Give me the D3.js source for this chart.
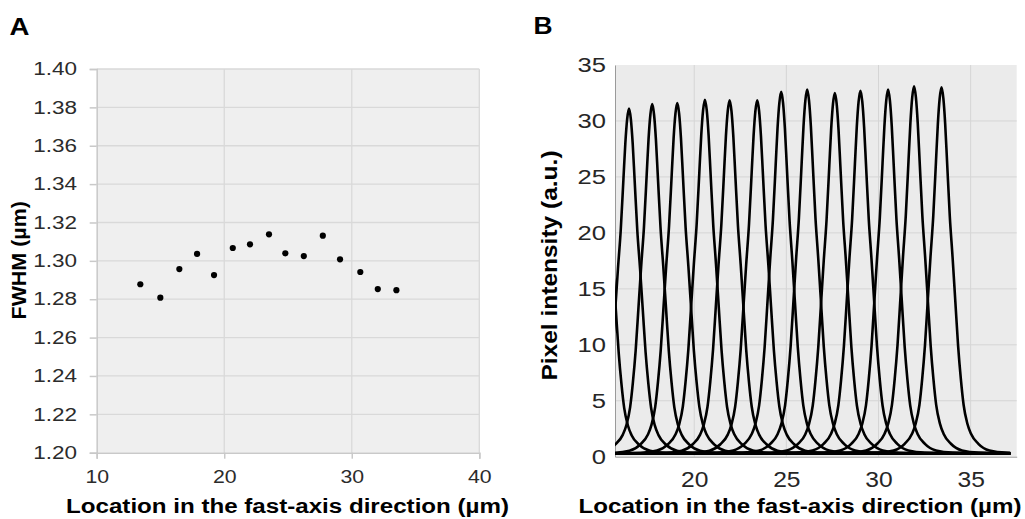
<!DOCTYPE html>
<html>
<head>
<meta charset="utf-8">
<script src="https://cdn.jsdelivr.net/npm/d3@7"></script>
<style>
body{margin:0;background:#fff}
svg{display:block}
text{font-family:"Liberation Sans",Arial,sans-serif}
</style>
</head>
<body>
<svg id="chart" width="1025" height="519"></svg>
<script>
// --- panel A : FWHM along the fast axis ---
var fwhmX = [13.42, 14.99, 16.48, 17.87, 19.20, 20.67, 22.02, 23.51, 24.79, 26.24, 27.73, 29.08, 30.67, 32.04, 33.50];
var fwhmY = [1.2878, 1.2808, 1.2957, 1.3036, 1.2926, 1.3067, 1.3086, 1.3138, 1.3039, 1.3025, 1.3131, 1.3008, 1.2942, 1.2853, 1.2847];
var fwhmXTicks = [10, 20, 30, 40];
var fwhmYTicks = [1.20, 1.22, 1.24, 1.26, 1.28, 1.30, 1.32, 1.34, 1.36, 1.38, 1.40];

// --- panel B : line profiles ---
var peakCenters = [15.00, 16.46, 17.72, 19.08, 20.58, 21.92, 23.42, 24.72, 26.13, 27.63, 29.02, 30.52, 31.93, 33.42];
var peakHeights = [31.0, 31.1, 31.5, 31.6, 31.9, 31.85, 31.85, 32.6, 32.8, 32.5, 32.7, 32.8, 33.1, 33.0];
var profileOffset = [0, 0.1, 0.2, 0.3, 0.45, 0.6, 0.75, 0.9, 1.05, 1.2, 1.4, 1.6, 2.0, 2.6, 3.5, 6, 22];
var profileLevel = [1, 0.97, 0.9, 0.8, 0.65, 0.54, 0.42, 0.30, 0.21, 0.14, 0.09, 0.062, 0.035, 0.017, 0.011, 0.009, 0.009];
var scanRange = [15.7, 37.15];
var intensityXTicks = [20, 25, 30, 35];
var intensityYTicks = [0, 5, 10, 15, 20, 25, 30, 35];

var svg = d3.select("#chart");

// stretch tick text sideways a little, the source figure is a bit wider than tall
function widen(sel, sx) {
	sel.each(function() {
		var t = d3.select(this);
		var x = +t.attr("x") || 0;
		t.attr("x", 0).attr("transform", "translate(" + x + ",0) scale(" + sx + ",1)");
	});
}

/* ---------------- panel A ---------------- */
var xA = d3.scaleLinear().domain([10, 40]).range([96.7, 479.3]);
var yA = d3.scaleLinear().domain([1.20, 1.40]).range([452.7, 69]);

var gA = svg.append("g");
gA.append("rect")
	.attr("x", xA(10)).attr("y", yA(1.40))
	.attr("width", xA(40) - xA(10)).attr("height", yA(1.20) - yA(1.40))
	.attr("fill", "#efefef");

gA.selectAll(".hgrid").data(fwhmYTicks.slice(1)).enter().append("line")
	.attr("x1", xA(10)).attr("x2", xA(40))
	.attr("y1", function(d) { return yA(d); }).attr("y2", function(d) { return yA(d); })
	.attr("stroke", "#d9d9d9").attr("stroke-width", 1.3);
gA.selectAll(".vgrid").data(fwhmXTicks.slice(1)).enter().append("line")
	.attr("y1", yA(1.20)).attr("y2", yA(1.40))
	.attr("x1", function(d) { return xA(d); }).attr("x2", function(d) { return xA(d); })
	.attr("stroke", "#d9d9d9").attr("stroke-width", 1.3);

var axALeft = gA.append("g")
	.attr("transform", "translate(" + xA(10) + ",0)")
	.call(d3.axisLeft(yA).tickValues(fwhmYTicks).tickFormat(d3.format(".2f")).tickSize(7).tickPadding(12.7));
var axABottom = gA.append("g")
	.attr("transform", "translate(0," + yA(1.20) + ")")
	.call(d3.axisBottom(xA).tickValues(fwhmXTicks).tickSize(6).tickPadding(11));
[axALeft, axABottom].forEach(function(ax) {
	ax.select(".domain").attr("stroke", "#c9c9c9").attr("stroke-width", 1.5);
	ax.selectAll(".tick line").attr("stroke", "#c9c9c9").attr("stroke-width", 1.5);
	ax.selectAll("text").attr("fill", "#2b2b2b");
});
axALeft.selectAll("text").attr("font-size", 18).call(widen, 1.25);
axABottom.selectAll("text").attr("font-size", 19).call(widen, 1.12);

gA.selectAll(".dot").data(fwhmX).enter().append("circle")
	.attr("cx", function(d) { return xA(d); })
	.attr("cy", function(d, i) { return yA(fwhmY[i]); })
	.attr("r", 3.1)
	.attr("fill", "#000");

gA.append("text")
	.attr("transform", "translate(287.5,513.3) scale(1.15,1)")
	.attr("text-anchor", "middle").attr("font-weight", "bold").attr("font-size", 21)
	.text("Location in the fast-axis direction (µm)");
gA.append("text")
	.attr("transform", "translate(25.7,260.3) rotate(-90) scale(1.1,1)")
	.attr("text-anchor", "middle").attr("font-weight", "bold").attr("font-size", 19.5)
	.text("FWHM (µm)");
gA.append("text")
	.attr("transform", "translate(9.5,35) scale(1.15,1)")
	.attr("font-weight", "bold").attr("font-size", 24)
	.text("A");

/* ---------------- panel B ---------------- */
var xB = d3.scaleLinear().domain([15.7, 37.5]).range([615, 1016.7]);
var yB = d3.scaleLinear().domain([0, 35]).range([456.7, 65]);

var gB = svg.append("g");
gB.append("rect")
	.attr("x", xB(15.7)).attr("y", yB(35))
	.attr("width", xB(37.5) - xB(15.7)).attr("height", yB(0) - yB(35))
	.attr("fill", "#ebebeb");

gB.selectAll(".hgrid").data(intensityYTicks.slice(1, -1)).enter().append("line")
	.attr("x1", xB(15.7)).attr("x2", xB(37.5))
	.attr("y1", function(d) { return yB(d); }).attr("y2", function(d) { return yB(d); })
	.attr("stroke", "#d5d5d5").attr("stroke-width", 1);
gB.selectAll(".vgrid").data(intensityXTicks).enter().append("line")
	.attr("y1", yB(0)).attr("y2", yB(35))
	.attr("x1", function(d) { return xB(d); }).attr("x2", function(d) { return xB(d); })
	.attr("stroke", "#d5d5d5").attr("stroke-width", 1);

var axBLeft = gB.append("g")
	.attr("transform", "translate(" + xB(15.7) + ",0)")
	.call(d3.axisLeft(yB).tickValues(intensityYTicks).tickSize(0).tickPadding(9));
var axBBottom = gB.append("g")
	.attr("transform", "translate(0," + yB(0) + ")")
	.call(d3.axisBottom(xB).tickValues(intensityXTicks).tickSize(0).tickPadding(15));
[axBLeft, axBBottom].forEach(function(ax) {
	ax.select(".domain").attr("stroke", "#9a9a9a").attr("stroke-width", 1);
	ax.selectAll("text").attr("fill", "#262626");
});
axBLeft.selectAll("text").attr("font-size", 20).call(widen, 1.28);
axBBottom.selectAll("text").attr("font-size", 22).call(widen, 1.12);

gB.append("clipPath").attr("id", "scanClip")
	.append("rect")
	.attr("x", xB(scanRange[0])).attr("y", yB(35))
	.attr("width", xB(scanRange[1]) - xB(scanRange[0]))
	.attr("height", yB(0) - yB(35) + 4);

// full symmetric profile from the one-sided table
var profile = profileOffset.slice(1).reverse().map(function(o, i) {
	return [-o, profileLevel[profileOffset.length - 1 - i]];
}).concat(profileOffset.map(function(o, i) { return [o, profileLevel[i]]; }));

var line = d3.line()
	.x(function(d) { return xB(d[0]); })
	.y(function(d) { return yB(d[1]); })
	.curve(d3.curveMonotoneX);

gB.append("g").attr("clip-path", "url(#scanClip)")
	.selectAll("path").data(peakCenters).enter().append("path")
	.attr("d", function(c, i) {
		return line(profile.map(function(p) { return [c + p[0], peakHeights[i] * p[1]]; }));
	})
	.attr("fill", "none")
	.attr("stroke", "#000")
	.attr("stroke-width", 2.6)
	.attr("stroke-linejoin", "round");

gB.append("text")
	.attr("transform", "translate(800,513.3) scale(1.15,1)")
	.attr("text-anchor", "middle").attr("font-weight", "bold").attr("font-size", 21)
	.text("Location in the fast-axis direction (µm)");
gB.append("text")
	.attr("transform", "translate(557,265.5) rotate(-90) scale(1.14,1)")
	.attr("text-anchor", "middle").attr("font-weight", "bold").attr("font-size", 21.5)
	.text("Pixel intensity (a.u.)");
gB.append("text")
	.attr("transform", "translate(533.5,34.3) scale(1.1,1)")
	.attr("font-weight", "bold").attr("font-size", 24)
	.text("B");
</script>
</body>
</html>
